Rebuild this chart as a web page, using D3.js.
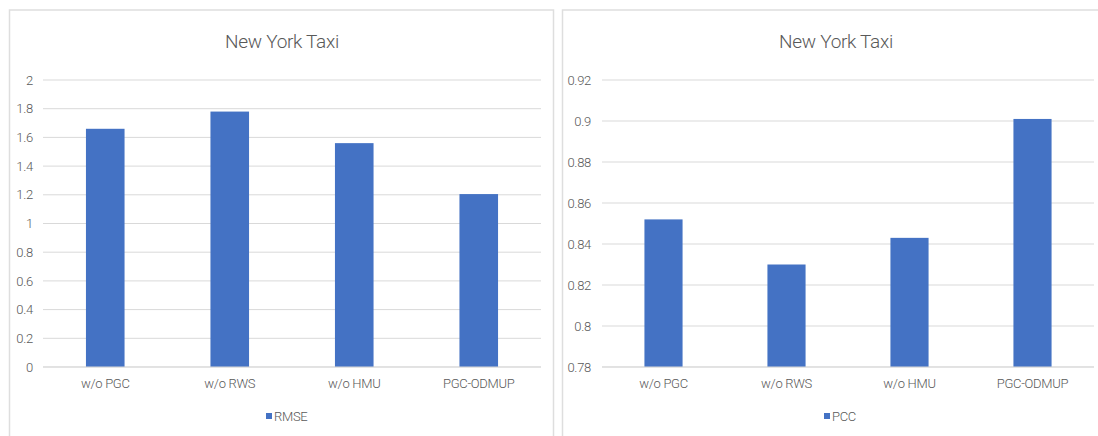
<!DOCTYPE html>
<html>
<head>
<meta charset="utf-8">
<script src="https://cdn.jsdelivr.net/npm/d3@7"></script>
<style>
  html, body { margin: 0; padding: 0; background: #ffffff; }
  svg text { font-family: "Roboto", "Liberation Sans", sans-serif; font-weight: 300; fill: #595959; letter-spacing: -0.3px; }
</style>
</head>
<body>
<svg id="chart" width="1098" height="436"></svg>
<script>
// Ablation results on the New York Taxi dataset
const categories = ["w/o PGC", "w/o RWS", "w/o HMU", "PGC-ODMUP"];
const rmseValues = [1.66, 1.78, 1.56, 1.205];
const pccValues  = [0.852, 0.830, 0.843, 0.901];
const rmseTicks  = [0, 0.2, 0.4, 0.6, 0.8, 1, 1.2, 1.4, 1.6, 1.8, 2];
const pccTicks   = [0.78, 0.8, 0.82, 0.84, 0.86, 0.88, 0.9, 0.92];
const chartTitle = "New York Taxi";

const svg = d3.select("#chart");

function drawPanel(cfg) {
  const g = svg.append("g");

  // panel frame
  g.append("rect")
    .attr("x", cfg.frame[0]).attr("y", cfg.frame[1])
    .attr("width", cfg.frame[2]).attr("height", cfg.frame[3])
    .attr("fill", "#ffffff").attr("stroke", "#dedede").attr("stroke-width", 1.5);

  g.append("text")
    .attr("x", cfg.titleX).attr("y", 48)
    .attr("text-anchor", "middle")
    .style("font-size", "19px")
    .text(chartTitle);

  const x = d3.scaleBand().domain(categories).range([cfg.left, cfg.right]).paddingInner(0.69).paddingOuter(0.345);
  const y = d3.scaleLinear().domain(cfg.domain).range([367, 80]);

  // horizontal gridlines
  g.append("g")
    .selectAll("line").data(cfg.ticks).join("line")
    .attr("x1", cfg.left).attr("x2", cfg.right)
    .attr("y1", d => y(d)).attr("y2", d => y(d))
    .attr("stroke", "#d9d9d9").attr("stroke-width", 1);

  // y axis labels
  const yAxis = d3.axisLeft(y).tickValues(cfg.ticks).tickSize(0).tickPadding(0).tickFormat(d3.format("~g"));
  const ya = g.append("g").attr("transform", `translate(${cfg.labelRight},0)`).call(yAxis);
  ya.select(".domain").remove();
  ya.selectAll("text").style("font-size", "13px").style("font-family", null).attr("fill", "#595959");

  // bars
  g.append("g")
    .selectAll("rect").data(cfg.values).join("rect")
    .attr("x", (d, i) => x(categories[i]))
    .attr("width", x.bandwidth())
    .attr("y", d => y(d))
    .attr("height", d => y(cfg.domain[0]) - y(d))
    .attr("fill", "#4472c4");

  // x axis labels
  const xAxis = d3.axisBottom(x).tickSize(0).tickPadding(0);
  const xa = g.append("g").attr("transform", "translate(0,379)").call(xAxis);
  xa.select(".domain").remove();
  xa.selectAll("text").style("font-size", "13px").attr("fill", "#595959").attr("dy", "0.71em");

  // baseline
  g.append("line")
    .attr("x1", cfg.left).attr("x2", cfg.right)
    .attr("y1", y(cfg.domain[0])).attr("y2", y(cfg.domain[0]))
    .attr("stroke", "#d9d9d9").attr("stroke-width", 1);

  // legend
  const lg = g.append("g").attr("transform", `translate(${cfg.legendX},0)`);
  lg.append("rect").attr("x", 0).attr("y", 413).attr("width", 6).attr("height", 6).attr("fill", "#4472c4");
  lg.append("text").attr("x", 8).attr("y", 421).style("font-size", "13px").text(cfg.name);
}

drawPanel({
  frame: [9.5, 10, 544, 440],
  titleX: 282,
  left: 43, right: 541,
  labelRight: 33,
  domain: [0, 2],
  ticks: rmseTicks,
  values: rmseValues,
  name: "RMSE",
  legendX: 266
});

drawPanel({
  frame: [562.5, 10, 560, 440],
  titleX: 836,
  left: 602, right: 1094,
  labelRight: 591,
  domain: [0.78, 0.92],
  ticks: pccTicks,
  values: pccValues,
  name: "PCC",
  legendX: 824
});
</script>
</body>
</html>
